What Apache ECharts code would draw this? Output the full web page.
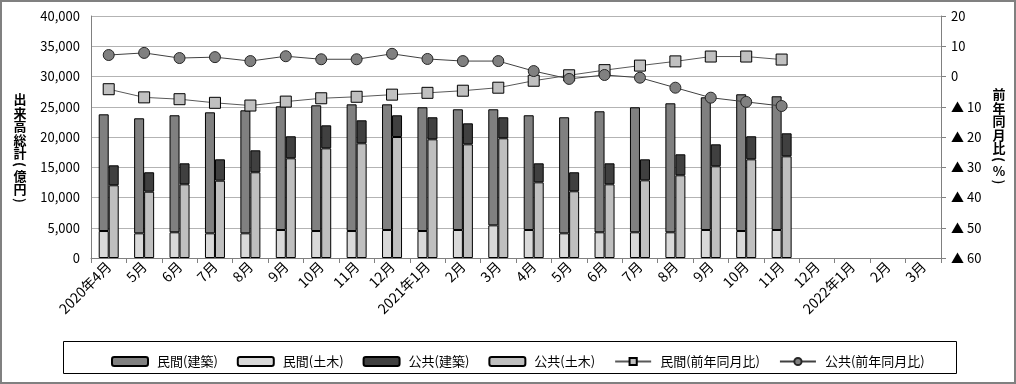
<!DOCTYPE html>
<html>
<head>
<meta charset="utf-8">
<script src="https://cdn.jsdelivr.net/npm/echarts@6/dist/echarts.min.js"></script>
<style>
html,body{margin:0;padding:0;background:#fff;}
#c{width:1016px;height:384px;}
</style>
</head>
<body>
<div id="c"></div>
<script>
var categories = ['2020年4月','5月','6月','7月','8月','9月','10月','11月','12月','2021年1月','2月','3月','4月','5月','6月','7月','8月','9月','10月','11月','12月','2022年1月','2月','3月'];
var leftTicks = [0,5000,10000,15000,20000,25000,30000,35000,40000];
var privBuild = [19290,19010,19340,20000,20330,20440,20780,20940,20770,20450,19950,19180,18960,19180,20000,20660,21320,21930,22600,22100,null,null,null,null];
var privCivil = [4460,4080,4250,4080,4080,4630,4460,4460,4630,4460,4630,5400,4630,4080,4250,4250,4250,4630,4460,4630,null,null,null,null];
var pubBuild  = [3300,3210,3470,3530,3630,3640,3800,3800,3590,3640,3470,3470,3140,3140,3470,3470,3470,3630,3810,3800,null,null,null,null];
var pubCivil  = [12020,10960,12180,12780,14170,16480,18130,18960,20000,19620,18790,19790,12510,11030,12180,12840,13670,15160,16310,16810,null,null,null,null];
var privYoY = [-4.2,-6.9,-7.5,-8.7,-9.6,-8.3,-7.2,-6.7,-6.0,-5.4,-4.7,-3.7,-1.4,0.4,2.1,3.6,5.0,6.6,6.6,5.6,null,null,null,null];
var pubYoY  = [7.1,7.8,6.1,6.4,5.1,6.7,5.7,5.7,7.5,5.8,5.1,5.1,1.8,-0.8,0.5,-0.4,-3.7,-7.0,-8.4,-9.75,null,null,null,null];
var leftName = ['出','来','高','総','計','(','億','円',')'];
var rightName = ['前','年','同','月','比','(','%',')'];

var FONT = '"Noto Sans CJK JP", "Noto Sans", sans-serif';
var chart = echarts.init(document.getElementById('c'), null, {renderer:'canvas'});
var barBorder = {borderColor:'#000', borderWidth:1};

function vertText(chars, cx, top) {
  var els = [];
  var y = top;
  chars.forEach(function(ch){
    var isParen = (ch === '(' || ch === ')');
    if (isParen) {
      els.push({type:'text', x:cx, y:y + 4, rotation:-Math.PI/2, originX:0, originY:0, silent:true,
        style:{text:ch, font:'bold 13px '+FONT, fill:'#000', align:'center', verticalAlign:'middle'}});
      y += 9;
    } else {
      els.push({type:'text', x:cx, y:y, silent:true,
        style:{text:ch, font:'bold 13px '+FONT, fill:'#000', align:'center', verticalAlign:'top'}});
      y += 13.5;
    }
  });
  return els;
}

var option = {
  animation:false,
  textStyle:{fontFamily:FONT},
  grid:{left:91, right:75, top:16, bottom:126, containLabel:false},
  legend:{
    left:106, top:350,
    itemWidth:36, itemHeight:9, itemGap:19,
    textStyle:{fontSize:13, color:'#000', fontFamily:FONT, padding:[0,0,0,4]},
    data:['民間(建築)','民間(土木)','公共(建築)','公共(土木)','民間(前年同月比)','公共(前年同月比)']
  },
  xAxis:{
    type:'category', data:categories, boundaryGap:true,
    axisLine:{lineStyle:{color:'#808080'}},
    axisTick:{show:true, alignWithLabel:false, length:5, lineStyle:{color:'#808080'}},
    axisLabel:{interval:0, rotate:45, fontSize:14, color:'#000', margin:6, fontFamily:FONT}
  },
  yAxis:[{
    type:'value', min:leftTicks[0], max:leftTicks[leftTicks.length-1], interval:5000,
    axisLine:{show:true, lineStyle:{color:'#808080'}},
    axisTick:{show:false},
    splitLine:{lineStyle:{color:'#b3b3b3'}},
    axisLabel:{fontSize:13, color:'#000', margin:11, fontFamily:FONT,
      formatter:function(v){return v.toLocaleString('en-US');}}
  },{
    type:'value', min:-60, max:20, interval:10,
    axisLine:{show:true, lineStyle:{color:'#808080'}},
    axisTick:{show:true, length:5, lineStyle:{color:'#808080'}},
    splitLine:{show:false},
    axisLabel:{fontSize:13, color:'#000', margin:10, fontFamily:FONT,
      formatter:function(v){return v<0 ? '▲ '+(-v) : String(v);}}
  }],
  series:[
    {name:'民間(土木)', type:'bar', stack:'priv', data:privCivil, barWidth:10, barGap:'0%', itemStyle:Object.assign({color:'#d9d9d9'},barBorder)},
    {name:'民間(建築)', type:'bar', stack:'priv', data:privBuild, barWidth:10, barGap:'0%', itemStyle:Object.assign({color:'#808080'},barBorder)},
    {name:'公共(土木)', type:'bar', stack:'pub', data:pubCivil, barWidth:10, barGap:'0%', itemStyle:Object.assign({color:'#bfbfbf'},barBorder)},
    {name:'公共(建築)', type:'bar', stack:'pub', data:pubBuild, barWidth:10, barGap:'0%', itemStyle:Object.assign({color:'#404040'},barBorder)},
    {name:'民間(前年同月比)', type:'line', yAxisIndex:1, data:privYoY, symbol:'rect', symbolSize:11, z:5,
      lineStyle:{color:'#595959', width:1}, itemStyle:{color:'#c0c0c0', borderColor:'#000', borderWidth:1}},
    {name:'公共(前年同月比)', type:'line', yAxisIndex:1, data:pubYoY, symbol:'circle', symbolSize:11, z:5,
      lineStyle:{color:'#404040', width:1}, itemStyle:{color:'#808080', borderColor:'#262626', borderWidth:1}}
  ],
  graphic:[
    {type:'rect', shape:{x:1,y:1,width:1014,height:382}, style:{fill:null, stroke:'#808080', lineWidth:2}, silent:true},
    {type:'rect', shape:{x:63.5,y:341.5,width:893,height:32}, style:{fill:null, stroke:'#000', lineWidth:1}, silent:true}
  ].concat(vertText(leftName, 20, 93)).concat(vertText(rightName, 999, 88))
};
chart.setOption(option);
</script>
</body>
</html>
